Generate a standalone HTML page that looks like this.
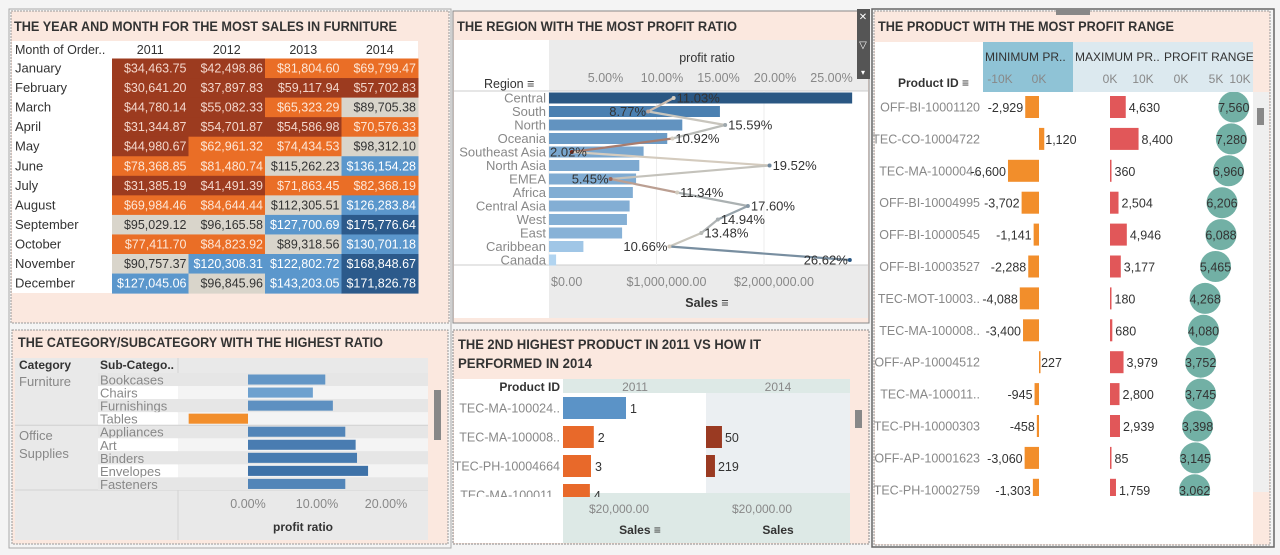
<!DOCTYPE html>
<html><head><meta charset="utf-8">
<style>
html,body{margin:0;padding:0;background:#f4f4f4;}
svg{display:block;font-family:"Liberation Sans",sans-serif;}
text{font-family:"Liberation Sans",sans-serif;}
</style></head>
<body>
<svg id="dash" width="1280" height="555" viewBox="0 0 1280 555" xmlns="http://www.w3.org/2000/svg">
<defs>
<clipPath id="catClip"><rect x="12" y="372" width="425" height="118"/></clipPath>
<clipPath id="p4Clip"><rect x="453" y="393" width="400" height="104"/></clipPath>
<clipPath id="p5Clip"><rect x="873" y="92" width="382" height="404"/></clipPath>
</defs>
<rect x="0" y="0" width="1280" height="555" fill="#f4f4f4"/>

<g>
<rect x="9" y="9" width="442" height="539" fill="none" stroke="#aaa" stroke-width="1"/>
<rect x="11" y="11" width="438" height="312" fill="#fbe8df" stroke="#999" stroke-dasharray="2,1"/>
<text x="14" y="31" font-size="13.5" font-weight="bold" fill="#333" textLength="383" lengthAdjust="spacingAndGlyphs">THE YEAR AND MONTH FOR THE MOST SALES IN FURNITURE</text>
<rect x="12" y="41" width="406" height="252" fill="#fff"/>
<text x="15" y="54" font-size="12.5" fill="#333">Month of Order..</text>
<g id="heat"></g>
</g>

<g>
<rect x="12" y="330" width="436" height="214" fill="#fbe8df" stroke="#999" stroke-dasharray="2,1"/>
<text x="18" y="347" font-size="13.5" font-weight="bold" fill="#333" textLength="365" lengthAdjust="spacingAndGlyphs">THE CATEGORY/SUBCATEGORY WITH THE HIGHEST RATIO</text>
<rect x="15" y="358" width="413" height="182" fill="#e9e9e9"/>
<text x="19" y="369" font-size="12" font-weight="bold" fill="#333">Category</text>
<text x="100" y="369" font-size="12" font-weight="bold" fill="#333">Sub-Catego..</text>
<line x1="178" y1="358" x2="178" y2="540" stroke="#d4d4d4"/>
<line x1="15" y1="490" x2="428" y2="490" stroke="#d4d4d4"/>
<g id="cat"></g>
<text x="303" y="531" font-size="12" font-weight="bold" fill="#333" text-anchor="middle">profit ratio</text>
<rect x="434" y="390" width="7" height="50" fill="#888"/>
</g>

<g>
<rect x="453" y="11" width="416" height="312" fill="#fbe8df" stroke="#888"/>
<text x="457" y="31" font-size="13.5" font-weight="bold" fill="#333" textLength="280" lengthAdjust="spacingAndGlyphs">THE REGION WITH THE MOST PROFIT RATIO</text>
<rect x="454" y="40" width="414" height="278" fill="#fff"/>
<rect x="549" y="40" width="319" height="51" fill="#ebebeb"/>
<rect x="549" y="265" width="319" height="53" fill="#ebebeb"/>
<line x1="454" y1="91" x2="868" y2="91" stroke="#ccc"/>
<line x1="454" y1="265" x2="868" y2="265" stroke="#ccc"/>
<text x="707" y="62" font-size="12.5" fill="#333" text-anchor="middle">profit ratio</text>
<text x="484" y="88" font-size="12.5" fill="#333">Region ≡</text>
<text x="707" y="307" font-size="12.5" font-weight="bold" fill="#333" text-anchor="middle">Sales ≡</text>
<g id="reg"></g>
<rect x="857" y="9" width="13" height="70" fill="#555"/>
<text x="863" y="20" font-size="10" fill="#fff" text-anchor="middle">✕</text>
<text x="863" y="48" font-size="10" fill="#fff" text-anchor="middle">▽</text>
<text x="863" y="75" font-size="8" fill="#fff" text-anchor="middle">▾</text>
</g>

<g>
<rect x="453" y="330" width="416" height="214" fill="#fbe8df" stroke="#888" stroke-dasharray="2,1"/>
<text x="458" y="349" font-size="13.5" font-weight="bold" fill="#333" textLength="303" lengthAdjust="spacingAndGlyphs">THE 2ND HIGHEST PRODUCT IN 2011 VS HOW IT</text>
<text x="458" y="368" font-size="13.5" font-weight="bold" fill="#333" textLength="134" lengthAdjust="spacingAndGlyphs">PERFORMED IN 2014</text>
<rect x="454" y="379" width="396" height="164" fill="#fff"/>
<rect x="563" y="379" width="287" height="14" fill="#dde9e6"/>
<rect x="706" y="393" width="144" height="100" fill="#ebeff2"/>
<rect x="563" y="493" width="287" height="50" fill="#dde9e6"/>
<text x="560" y="391" font-size="12" font-weight="bold" fill="#333" text-anchor="end">Product ID</text>
<text x="635" y="391" font-size="12" fill="#888" text-anchor="middle">2011</text>
<text x="778" y="391" font-size="12" fill="#888" text-anchor="middle">2014</text>
<text x="619" y="513" font-size="12" fill="#888" text-anchor="middle">$20,000.00</text>
<text x="762" y="513" font-size="12" fill="#888" text-anchor="middle">$20,000.00</text>
<text x="640" y="534" font-size="12" font-weight="bold" fill="#333" text-anchor="middle">Sales ≡</text>
<text x="778" y="534" font-size="12" font-weight="bold" fill="#333" text-anchor="middle">Sales</text>
<g id="p4"></g>
<rect x="855" y="410" width="7" height="18" fill="#888"/>
</g>

<g>
<rect x="872" y="9" width="402" height="538" fill="none" stroke="#666" stroke-width="1.5"/>
<rect x="874" y="11" width="396" height="534" fill="#fbe8df" stroke="#999" stroke-dasharray="2,1"/>
<rect x="1056" y="9" width="34" height="6" fill="#888"/>
<text x="878" y="31" font-size="13.5" font-weight="bold" fill="#333" textLength="296" lengthAdjust="spacingAndGlyphs">THE PRODUCT WITH THE MOST PROFIT RANGE</text>
<rect x="875" y="42" width="378" height="502" fill="#fff"/>
<rect x="1253" y="92" width="16" height="400" fill="#efefef"/>
<rect x="983" y="42" width="90" height="50" fill="#8fc3d6"/>
<rect x="1073" y="42" width="180" height="50" fill="#dce9ef"/>
<text x="985" y="61" font-size="12" fill="#333">MINIMUM PR..</text>
<text x="1075" y="61" font-size="12" fill="#333">MAXIMUM PR..</text>
<text x="1164" y="61" font-size="12" fill="#333">PROFIT RANGE</text>
<text x="898" y="87" font-size="12" font-weight="bold" fill="#333">Product ID ≡</text>
<g font-size="12" fill="#888" text-anchor="middle">
<text x="1000" y="83">-10K</text>
<text x="1039" y="83">0K</text>
<text x="1110" y="83">0K</text>
<text x="1143" y="83">10K</text>
<text x="1181" y="83">0K</text>
<text x="1216" y="83">5K</text>
<text x="1240" y="83">10K</text>
</g>
<g id="p5"></g>
<rect x="1257" y="108" width="7" height="17" fill="#888"/>
</g>
</svg>

<script>
const months = ['January','February','March','April','May','June','July','August','September','October','November','December'];
const years = ['2011','2012','2013','2014'];
const sales2011 = [34463.75,30641.20,44780.14,31344.87,44980.67,78368.85,31385.19,69984.46,95029.12,77411.70,90757.37,127045.06];
const sales2012 = [42498.86,37897.83,55082.33,54701.87,62961.32,81480.74,41491.39,84644.44,96165.58,84823.92,120308.31,96845.96];
const sales2013 = [81804.60,59117.94,65323.29,54586.98,74434.53,115262.23,71863.45,112305.51,127700.69,89318.56,122802.72,143203.05];
const sales2014 = [69799.47,57702.83,89705.38,70576.33,98312.10,136154.28,82368.19,126283.84,175776.64,130701.18,168848.67,171826.78];

const regions = ['Central','South','North','Oceania','Southeast Asia','North Asia','EMEA','Africa','Central Asia','West','East','Caribbean','Canada'];
const regionSalesM = [2.82,1.59,1.24,1.10,0.88,0.84,0.81,0.78,0.75,0.725,0.68,0.32,0.066];
const regionRatio = [11.03,8.77,15.59,10.92,2.02,19.52,5.45,11.34,17.60,14.94,13.48,10.66,26.62];
const ratioTicks = [5,10,15,20,25];
const salesTicksM = [0,1,2];

const categories = ['Furniture','Office Supplies'];
const subcats = ['Bookcases','Chairs','Furnishings','Tables','Appliances','Art','Binders','Envelopes','Fasteners'];
const subcatRatio = [11.2,9.4,12.3,-8.6,14.1,15.6,15.8,17.4,14.1];
const catTicks = [0,10,20];

const prodIds2 = ['TEC-MA-100024..','TEC-MA-100008..','TEC-PH-10004664','TEC-MA-100011..'];
const sales2011b = [22500,11000,10000,9600];
const rank2011 = ['1','2','3','4'];
const sales2014b = [null,5700,3200,null];
const rank2014 = ['','50','219',''];

const prodIds = ['OFF-BI-10001120','TEC-CO-10004722','TEC-MA-100004..','OFF-BI-10004995','OFF-BI-10000545','OFF-BI-10003527','TEC-MOT-10003..','TEC-MA-100008..','OFF-AP-10004512','TEC-MA-100011..','TEC-PH-10000303','OFF-AP-10001623','TEC-PH-10002759'];
const minProfit = [-2929,1120,-6600,-3702,-1141,-2288,-4088,-3400,227,-945,-458,-3060,-1303];
const maxProfit = [4630,8400,360,2504,4946,3177,180,680,3979,2800,2939,85,1759];
const profitRange = [7560,7280,6960,6206,6088,5465,4268,4080,3752,3745,3398,3145,3062];

const NS = 'http://www.w3.org/2000/svg';
function add(parent, tag, attrs, txt){
  const e = document.createElementNS(NS, tag);
  for (const k in attrs) e.setAttribute(k, attrs[k]);
  if (txt !== undefined) e.textContent = txt;
  parent.appendChild(e);
  return e;
}
function hex(c){return [parseInt(c.slice(1,3),16),parseInt(c.slice(3,5),16),parseInt(c.slice(5,7),16)];}
function lerpC(a,b,t){t=Math.max(0,Math.min(1,t));const A=hex(a),B=hex(b);return 'rgb('+A.map((v,i)=>Math.round(v+(B[i]-v)*t)).join(',')+')';}
function fmtMoney(v){return '$'+v.toLocaleString('en-US',{minimumFractionDigits:2,maximumFractionDigits:2});}
function fmtInt(v){return v.toLocaleString('en-US');}

(function(){
  const g = document.getElementById('heat');
  const cols = [sales2011,sales2012,sales2013,sales2014];
  const x0 = 112, cw = 76.5, y0 = 58.5, rh = 19.55;
  function col(v){
    if (v < 60000) return ['#9c3b1f','#f3d6cb'];
    if (v < 87000) return ['#ea6e26','#fde6d6'];
    if (v < 118000) return ['#d9d5cb','#333'];
    if (v < 150000) return ['#5b97cc','#fff'];
    return ['#2c5a8b','#fff'];
  }
  years.forEach((y,j)=>{
    const t = add(g,'text',{x:x0+cw*j+cw/2,y:54,'font-size':12.5,fill:'#333','text-anchor':'middle'},y);
    
    
  });
  months.forEach((m,i)=>{
    const t = add(g,'text',{x:15,y:y0+rh*i+14,'font-size':13,fill:'#333'},m);
    
    
    cols.forEach((arr,j)=>{
      const c = col(arr[i]);
      const r = add(g,'rect',{x:x0+cw*j,y:y0+rh*i,width:cw+0.5,height:rh+0.5,fill:c[0]});
      
      
      const tv = add(g,'text',{x:x0+cw*j+cw-2,y:y0+rh*i+14,'font-size':12.5,fill:c[1],'text-anchor':'end'},fmtMoney(arr[i]));
      
      
    });
  });
})();

(function(){
  const g = document.getElementById('cat');
  const zx = 248, pp = 6.9, y0 = 373, rh = 13.05;
  const sx = v => zx + v*pp;
  const cg = add(g,'g',{'clip-path':'url(#catClip)'});
  subcats.forEach((s,i)=>{
    const y = y0 + rh*i;
    const alt = i%2===1;
    const rb = add(cg,'rect',{x:178,y:y,width:250,height:rh,fill:alt?'#f4f4f4':'#e6e6e6'});
    
    
    const lb = add(cg,'rect',{x:98,y:y,width:80,height:rh,fill:alt?'#fff':'#e6e6e6'});
    
    
    const t = add(cg,'text',{x:100,y:y+11.5,'font-size':13,fill:'#888'},s);
    
    
    const v = subcatRatio[i];
    const fill = v < 0 ? '#f28e2b' : lerpC('#77a9d6','#3a6ea5',(v-8)/10);
    const b = add(cg,'rect',{x:Math.min(sx(0),sx(v)),y:y+1.5,width:Math.abs(sx(v)-sx(0)),height:rh-3,fill:fill});
    
    
  });
  const sep = add(cg,'line',{x1:15,y1:y0+rh*4,x2:428,y2:y0+rh*4,stroke:'#d0d0d0'});
  
  
  const c1 = add(g,'text',{x:19,y:386,'font-size':13,fill:'#888'},categories[0]);
  
  
  const parts = categories[1].split(' ');
  parts.forEach((p,k)=>{
    const t = add(g,'text',{x:19,y:440+k*18,'font-size':13,fill:'#888'},p);
    
    
  });
  catTicks.forEach(tk=>{
    const t = add(g,'text',{x:sx(tk),y:508,'font-size':12.5,fill:'#888','text-anchor':'middle'},tk.toFixed(2)+'%');
    
    
  });
})();

(function(){
  const g = document.getElementById('reg');
  const x0 = 549;
  const sxS = v => x0 + v*107.5;
  const sxR = v => x0 + v*11.3;
  const y0 = 98, rh = 13.5;
  ratioTicks.forEach(tk=>{
    const t = add(g,'text',{x:sxR(tk),y:82,'font-size':12.5,fill:'#888','text-anchor':'middle'},tk.toFixed(2)+'%');
    
    
  });
  salesTicksM.forEach(tk=>{
    const gl = add(g,'line',{x1:sxS(tk),y1:91,x2:sxS(tk),y2:265,stroke:'#eee'});
    
    
    const t = add(g,'text',{x:tk===0?551:sxS(tk)+10,y:286,'font-size':12.5,fill:'#888','text-anchor':tk===0?'start':'middle'},'$'+(tk*1000000).toLocaleString('en-US',{minimumFractionDigits:2}));
    
    
  });
  const maxS = Math.max(...regionSalesM);
  regions.forEach((r,i)=>{
    const yc = y0 + rh*i;
    const t = add(g,'text',{x:546,y:yc+4.5,'font-size':13,fill:'#888','text-anchor':'end'},r);
    
    
    const v = regionSalesM[i];
    const b = add(g,'rect',{x:x0,y:yc-5.5,width:sxS(v)-x0,height:11,fill:v===maxS?'#2a5783':lerpC('#b5d8f3','#4a7fb1',v/1.6)});
    
    
  });
  function rc(r){ return r < 11 ? lerpC('#7a2a1b','#d6cfc2',(r-2)/9) : lerpC('#d6cfc2','#2a5783',(r-11)/14); }
  for (let i=0;i<regions.length-1;i++){
    const l = add(g,'line',{x1:sxR(regionRatio[i]),y1:y0+rh*i,x2:sxR(regionRatio[i+1]),y2:y0+rh*(i+1),stroke:rc((regionRatio[i]+regionRatio[i+1])/2),'stroke-width':2.2});
    
    
  }
  regions.forEach((r,i)=>{
    const v = regionRatio[i], px = sxR(v), py = y0 + rh*i;
    const d = add(g,'circle',{cx:px,cy:py,r:2,fill:rc(v)});
    
    
    const left = (v < 10.8 || v > 25);
    let tx = left ? px-2 : px+3;
    let anchor = left ? 'end' : 'start';
    if (left && px - 38 < x0) { tx = x0+1; anchor = 'start'; }
    const t = add(g,'text',{x:tx,y:py+4.5,'font-size':13,fill:'#333','text-anchor':anchor},v.toFixed(2)+'%');
    
    
  });
})();

(function(){
  const g = document.getElementById('p4');
  const cg = add(g,'g',{'clip-path':'url(#p4Clip)'});
  const x11 = 563, x14 = 706, k = 56/20000;
  const ys = [408,437,466,495];
  prodIds2.forEach((p,i)=>{
    const yc = ys[i];
    const t = add(cg,'text',{x:560,y:yc+4.5,'font-size':12.5,fill:'#888','text-anchor':'end'},p);
    
    
    const w = sales2011b[i]*k;
    const b = add(cg,'rect',{x:x11,y:yc-11,width:w,height:22,fill:i===0?'#5b93c7':'#e8692a'});
    
    
    const l = add(cg,'text',{x:x11+w+4,y:yc+5,'font-size':12.5,fill:'#333'},rank2011[i]);
    
    
    if (sales2014b[i] !== null){
      const w2 = sales2014b[i]*k;
      const b2 = add(cg,'rect',{x:x14,y:yc-11,width:w2,height:22,fill:'#9a3a22'});
      
      
      const l2 = add(cg,'text',{x:x14+w2+3,y:yc+5,'font-size':12.5,fill:'#333'},rank2014[i]);
      
      
    }
  });
})();

(function(){
  const g = document.getElementById('p5');
  const cg = add(g,'g',{'clip-path':'url(#p5Clip)'});
  const zMin = 1039, kMin = 4.7/1000, zMax = 1110, kMax = 3.4/1000;
  const cx0 = 1168, kC = 0.0087;
  const y0 = 107, rh = 31.9;
  prodIds.forEach((p,i)=>{
    const yc = y0 + rh*i;
    const t = add(cg,'text',{x:980,y:yc+4.5,'font-size':12.5,fill:'#888','text-anchor':'end'},p);
    
    
    const mn = minProfit[i], xe = zMin + mn*kMin;
    const b = add(cg,'rect',{x:Math.min(zMin,xe),y:yc-11,width:Math.max(1.5,Math.abs(xe-zMin)),height:22,fill:'#f28e2b'});
    
    
    const lt = mn < 0 ? add(cg,'text',{x:xe-2,y:yc+5,'font-size':12.5,fill:'#333','text-anchor':'end'},fmtInt(mn))
                      : add(cg,'text',{x:xe+1,y:yc+5,'font-size':12.5,fill:'#333'},fmtInt(mn));
    
    
    const mx = maxProfit[i], xm = zMax + mx*kMax;
    const b2 = add(cg,'rect',{x:zMax,y:yc-11,width:Math.max(1.5,xm-zMax),height:22,fill:'#e15759'});
    
    
    const l2 = add(cg,'text',{x:Math.max(xm,zMax+1.5)+3,y:yc+5,'font-size':12.5,fill:'#333'},fmtInt(mx));
    
    
    const cx = cx0 + profitRange[i]*kC;
    const c = add(cg,'circle',{cx:cx,cy:yc,r:15.5,fill:'#72b0a5'});
    
    
    const l3 = add(cg,'text',{x:cx,y:yc+5,'font-size':12.5,fill:'#333','text-anchor':'middle'},fmtInt(profitRange[i]));
    
    
  });
})();
</script>
</body></html>
